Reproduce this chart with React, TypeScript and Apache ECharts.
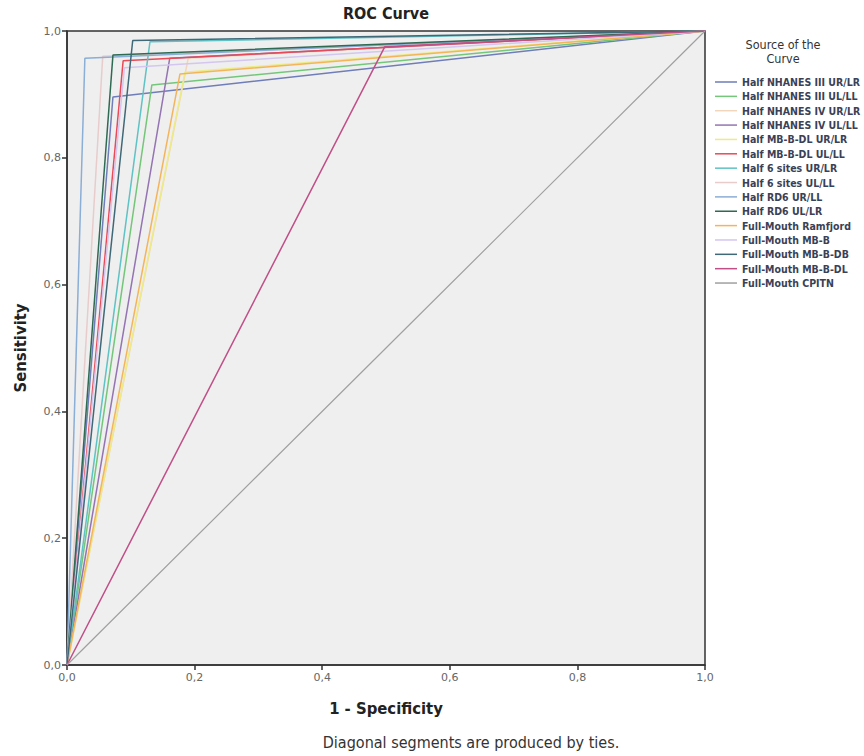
import React, { useEffect, useRef } from "react";
import * as echarts from "echarts";

const seriesNames = [
  "Half NHANES III UR/LR",
  "Half NHANES III UL/LL",
  "Half NHANES IV UR/LR",
  "Half NHANES IV UL/LL",
  "Half MB-B-DL UR/LR",
  "Half MB-B-DL UL/LL",
  "Half 6 sites UR/LR",
  "Half 6 sites UL/LL",
  "Half RD6 UR/LL",
  "Half RD6 UL/LR",
  "Full-Mouth Ramfjord",
  "Full-Mouth MB-B",
  "Full-Mouth MB-B-DB",
  "Full-Mouth MB-B-DL",
  "Full-Mouth CPITN",
];

// knee point of each ROC curve (1 - specificity, sensitivity)
const kneeFpr = [0.072, 0.133, 0.19, 0.161, 0.185, 0.088, 0.13, 0.056, 0.028, 0.072, 0.177, 0.09, 0.103, 0.498, 0.5];
const kneeTpr = [0.896, 0.915, 0.957, 0.957, 0.935, 0.953, 0.983, 0.96, 0.957, 0.962, 0.932, 0.942, 0.985, 0.975, 0.5];

const tickValues = [0, 0.2, 0.4, 0.6, 0.8, 1.0];

const lineColors = [
  "#6f7db8", "#74c67a", "#f2d6bc", "#9474b2", "#eceb86",
  "#e84a58", "#5fc2c4", "#e8cccc", "#8aaed6", "#2f6a52",
  "#f4b45c", "#d4c6ee", "#3f6878", "#c04f88", "#a0a0a0",
];

const fmt = (v: number) => v.toFixed(1).replace(".", ",");

export default function App() {
  const ref = useRef<HTMLDivElement>(null);
  useEffect(() => {
    if (!ref.current) return;
    const chart = echarts.init(ref.current, null, { renderer: "svg" });
    const series = seriesNames.map((name, i) => ({
      name,
      type: "line",
      data: [
        [0, 0],
        [kneeFpr[i], kneeTpr[i]],
        [1, 1],
      ],
      showSymbol: false,
      symbol: "none",
      lineStyle: { width: i === 14 ? 1.2 : 1.5, color: lineColors[i] },
      itemStyle: { color: lineColors[i] },
      z: 2,
    }));
    const axisCommon = {
      type: "value" as const,
      min: 0,
      max: 1,
      interval: 0.2,
      axisLine: { show: true, lineStyle: { color: "#333", width: 1.5 } },
      axisTick: { show: true, inside: false, length: 5, lineStyle: { color: "#333", width: 1.5 } },
      splitLine: { show: false },
      axisLabel: {
        formatter: (v: number) => (tickValues.some((t) => Math.abs(t - v) < 1e-9) ? fmt(v) : ""),
        color: "#666",
        fontSize: 11,
        fontFamily: "DejaVu Sans",
      },
    };
    chart.setOption({
      animation: false,
      backgroundColor: "#ffffff",
      grid: {
        left: 67,
        top: 31,
        width: 638,
        height: 634,
        show: true,
        backgroundColor: "#efefef",
        borderColor: "#333",
        borderWidth: 1.5,
      },
      xAxis: { ...axisCommon, axisLabel: { ...axisCommon.axisLabel, margin: 7 } },
      yAxis: { ...axisCommon, axisLabel: { ...axisCommon.axisLabel, margin: 6 } },
      legend: {
        orient: "vertical",
        left: 710,
        top: 71,
        icon: "rect",
        itemWidth: 22,
        itemHeight: 1.5,
        itemGap: 2.36,
        textStyle: {
          fontSize: 10.5,
          fontWeight: "bold",
          color: "#3a4156",
          fontFamily: "DejaVu Sans Condensed",
          lineHeight: 12,
        },
        data: seriesNames,
      },
      graphic: [
        {
          type: "text",
          x: 386,
          y: 13,
          style: {
            text: "ROC Curve",
            font: "bold 16px 'DejaVu Sans Condensed'",
            fill: "#222",
            align: "center",
            verticalAlign: "middle",
          },
        },
        {
          type: "text",
          x: 783,
          y: 44,
          style: {
            text: "Source of the",
            font: "12.5px 'DejaVu Sans Condensed'",
            fill: "#333",
            align: "center",
            verticalAlign: "middle",
          },
        },
        {
          type: "text",
          x: 783,
          y: 58.5,
          style: {
            text: "Curve",
            font: "12.5px 'DejaVu Sans Condensed'",
            fill: "#333",
            align: "center",
            verticalAlign: "middle",
          },
        },
        {
          type: "text",
          x: 386,
          y: 708,
          style: {
            text: "1 - Specificity",
            font: "bold 16.5px 'DejaVu Sans Condensed'",
            fill: "#222",
            align: "center",
            verticalAlign: "middle",
          },
        },
        {
          type: "text",
          x: 20,
          y: 348,
          rotation: Math.PI / 2,
          style: {
            text: "Sensitivity",
            font: "bold 16.5px 'DejaVu Sans Condensed'",
            fill: "#222",
            align: "center",
            verticalAlign: "middle",
          },
        },
        {
          type: "text",
          x: 471,
          y: 742,
          style: {
            text: "Diagonal segments are produced by ties.",
            font: "16px 'DejaVu Sans Condensed'",
            fill: "#333",
            align: "center",
            verticalAlign: "middle",
          },
        },
      ],
      series,
    });
    return () => chart.dispose();
  }, []);
  return <div ref={ref} style={{ position: "fixed", left: 0, top: 0, width: 864, height: 756 }} />;
}
